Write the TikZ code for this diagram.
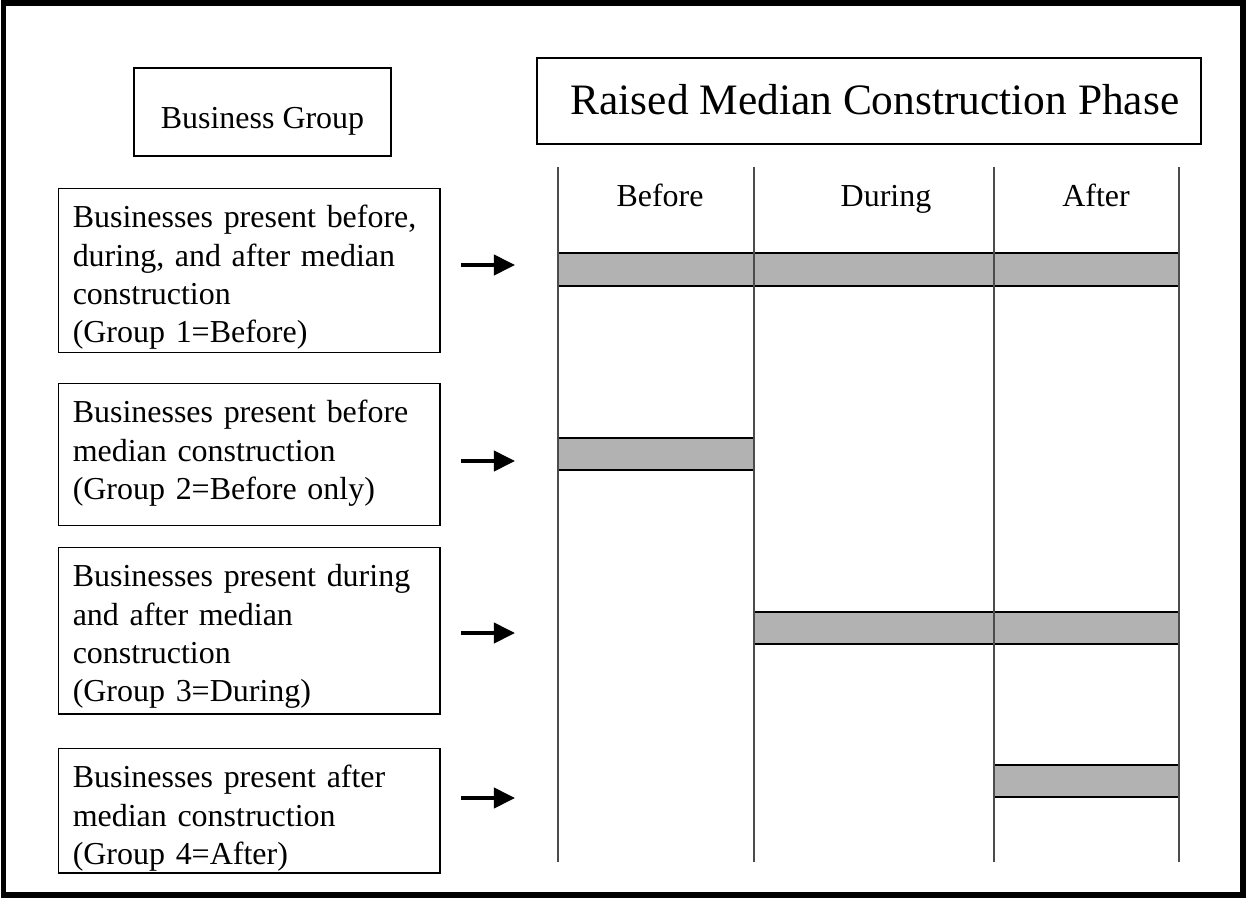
\documentclass[tikz,border=0pt]{standalone}
\usepackage{fontspec}
\setmainfont{Liberation Serif}
\usetikzlibrary{arrows.meta}
\tikzstyle{grp} = [draw=black, line width=0.8pt, anchor=north west, text width=201pt, align=left, inner xsep=8pt, inner ysep=0pt, text height=22.2pt, font=\fontsize{18.2pt}{21.8pt}\selectfont]
\tikzstyle{hdr} = [draw=black, line width=0.8pt]
\tikzstyle{col} = [anchor=base, font=\fontsize{18.2pt}{21.8pt}\selectfont]
\tikzstyle{bar} = [draw=black, line width=0.9pt, fill=black!30]
\tikzstyle{divider} = [draw=black!70, line width=0.9pt]
\tikzstyle{pointer} = [line width=2.3pt, -{Triangle[length=12pt,width=11.4pt]}]

\begin{document}
\begin{tikzpicture}[x=0.02cm, y=-0.02cm]
    \useasboundingbox (0,0) rectangle (1246,898);
    \draw[line width=3.4pt] (3.5,3) rectangle (1243,895);
    % headings
    \node[hdr, minimum width=146.2pt, minimum height=50pt, text height=20.6pt, text depth=2pt, font=\fontsize{18.2pt}{21.8pt}\selectfont] (bizgrp) at (262.5,112) {Business Group};
    \node[hdr, minimum width=377.8pt, minimum height=48.9pt, text height=20.3pt, text depth=5.4pt, font=\fontsize{24.7pt}{29pt}\selectfont] (phase) at (869,101) {\hspace*{6.8pt}Raised Median Construction Phase};
    \node[col] (before) at (660,207) {Before};
    \node[col] (during) at (886,207) {During};
    \node[col] (after) at (1096,207) {After};
    % groups
    \node[grp, text depth=71.1pt] (grp1) at (58,188) {Businesses present before,\\during, and after median\\construction\\(Group 1=Before)};
    \node[grp, text depth=58.6pt] (grp2) at (58,383) {Businesses present before\\median construction\\(Group 2=Before only)};
    \node[grp, text depth=72.5pt] (grp3) at (58,547) {Businesses present during\\and after median\\construction\\(Group 3=During)};
    \node[grp, text depth=48.5pt] (grp4) at (58,748) {Businesses present after\\median construction\\(Group 4=After)};
    % bars
    \draw[bar] (558,253) rectangle (1179,286);
    \draw[bar] (558,438) rectangle (754,470);
    \draw[bar] (754,612) rectangle (1179,644);
    \draw[bar] (994,765) rectangle (1179,797);
    \foreach \x in {558,754,994,1179}
      \draw[divider] (\x,167) -- (\x,862);
    % arrows
    \coordinate (tail1) at (461,265); \coordinate (tip1) at (515,265);
    \coordinate (tail2) at (461,461); \coordinate (tip2) at (515,461);
    \coordinate (tail3) at (461,633); \coordinate (tip3) at (515,633);
    \coordinate (tail4) at (461,798); \coordinate (tip4) at (515,798);
    \draw[pointer] (tail1) -- (tip1);
    \draw[pointer] (tail2) -- (tip2);
    \draw[pointer] (tail3) -- (tip3);
    \draw[pointer] (tail4) -- (tip4);
\end{tikzpicture}
\end{document}
